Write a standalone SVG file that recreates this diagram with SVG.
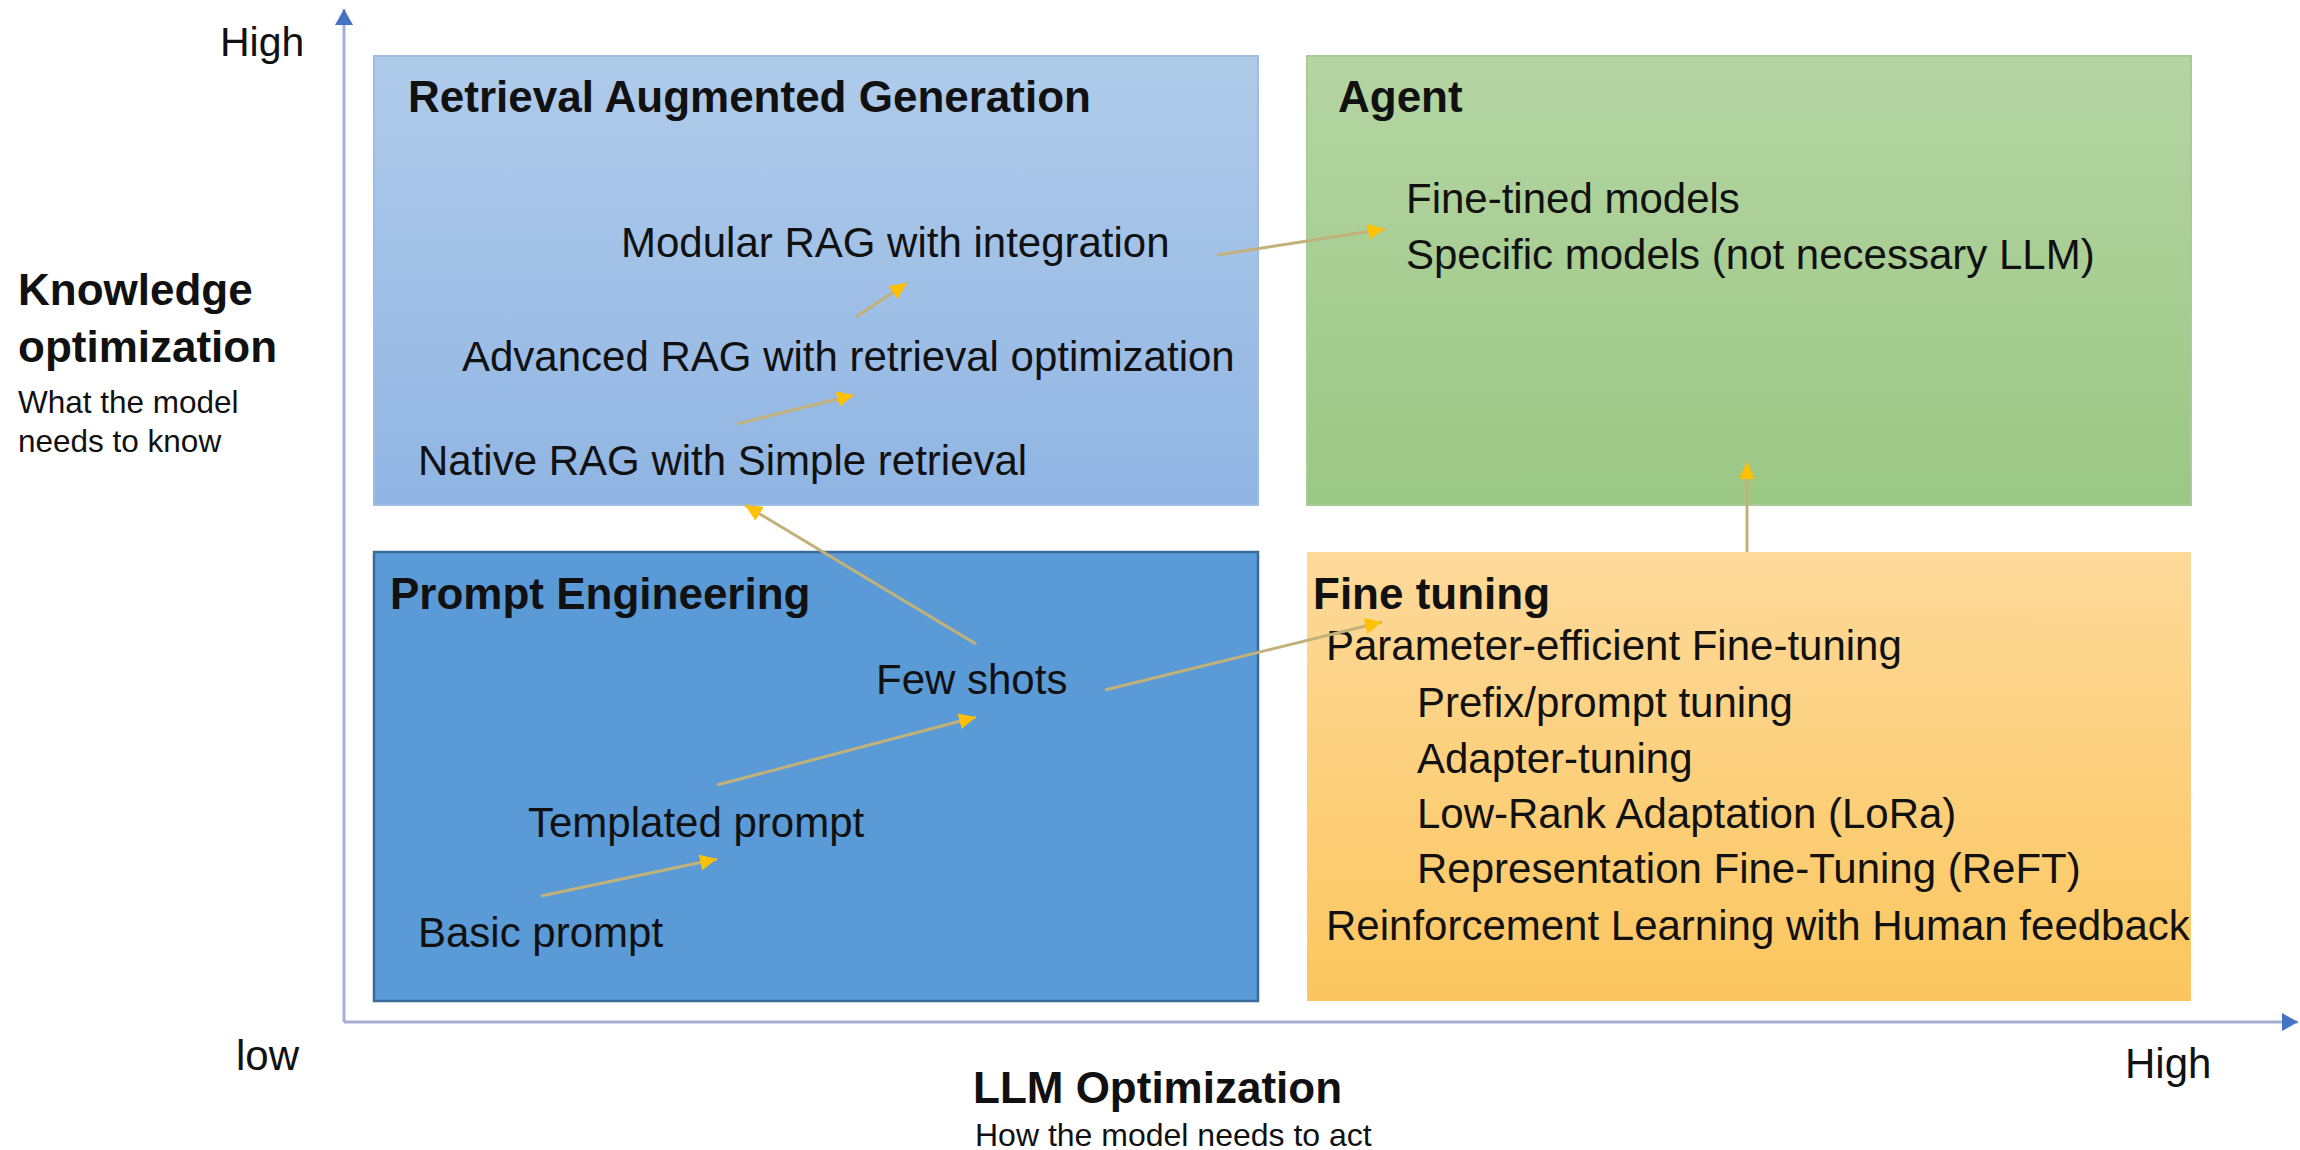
<svg xmlns="http://www.w3.org/2000/svg" width="2300" height="1150" viewBox="0 0 2300 1150">
<defs>
<linearGradient id="gRag" x1="0" y1="0" x2="0" y2="1"><stop offset="0" stop-color="#b0cbea"/><stop offset="1" stop-color="#90b5e3"/></linearGradient>
<linearGradient id="gAgent" x1="0" y1="0" x2="0" y2="1"><stop offset="0" stop-color="#b5d5a3"/><stop offset="1" stop-color="#9bc784"/></linearGradient>
<linearGradient id="gFt" x1="0" y1="0" x2="0" y2="1"><stop offset="0" stop-color="#fdd99a"/><stop offset="1" stop-color="#fbc65e"/></linearGradient>
<marker id="gold" markerUnits="userSpaceOnUse" markerWidth="18" markerHeight="16" refX="17" refY="8" orient="auto"><path d="M0,0 L17,8 L0,16 Z" fill="#ffc000"/></marker>
<marker id="blue" markerUnits="userSpaceOnUse" markerWidth="18" markerHeight="18" refX="16" refY="9" orient="auto"><path d="M0,0 L16,9 L0,18 Z" fill="#4472c4"/></marker>
</defs>
<style>
text{font-family:"Liberation Sans",Arial,sans-serif;fill:#111}
.b{font-weight:bold;font-size:44px}
.r{font-size:42px}
.s{font-size:31.5px}
.ax{stroke:#a6aed3;stroke-width:3;fill:none}
.c{stroke:#c2b27a;stroke-width:3;fill:none}
</style>
<rect width="2300" height="1150" fill="#ffffff"/>
<g id="axes">
<line class="ax" x1="344" y1="1022" x2="344" y2="9" marker-end="url(#blue)"/>
<line class="ax" x1="344" y1="1022" x2="2298" y2="1022" marker-end="url(#blue)"/>
<text class="r" x="220" y="56" style="font-size:41px">High</text>
<text class="r" x="236" y="1070">low</text>
<text class="r" x="2125" y="1078">High</text>
<text class="b" x="18" y="305">Knowledge</text>
<text class="b" x="18" y="362">optimization</text>
<text class="s" x="18" y="413">What the model</text>
<text class="s" x="18" y="452">needs to know</text>
<text class="b" x="973" y="1103">LLM Optimization</text>
<text class="s" x="975" y="1146" style="font-size:32px">How the model needs to act</text>
</g>
<g id="rag">
<rect x="374" y="56" width="884" height="449" fill="url(#gRag)" stroke="#9fbde2" stroke-width="2"/>
<text class="b" x="408" y="112">Retrieval Augmented Generation</text>
<text class="r" x="621" y="257">Modular RAG with integration</text>
<text class="r" x="462" y="371">Advanced RAG with retrieval optimization</text>
<text class="r" x="418" y="475">Native RAG with Simple retrieval</text>
</g>
<g id="agent">
<rect x="1307" y="56" width="884" height="449" fill="url(#gAgent)" stroke="#a9cc96" stroke-width="2"/>
<text class="b" x="1338" y="112">Agent</text>
<text class="r" x="1406" y="213">Fine-tined models</text>
<text class="r" x="1406" y="269">Specific models (not necessary LLM)</text>
</g>
<g id="prompt">
<rect x="374" y="552" width="884" height="449" fill="#5a9ad6" stroke="#3b6b9b" stroke-width="2.5"/>
<text class="b" x="390" y="609">Prompt Engineering</text>
<text class="r" x="876" y="694">Few shots</text>
<text class="r" x="528" y="837">Templated prompt</text>
<text class="r" x="418" y="947">Basic prompt</text>
</g>
<g id="finetuning">
<rect x="1307" y="552" width="884" height="449" fill="url(#gFt)"/>
<text class="b" x="1313" y="609">Fine tuning</text>
<text class="r" x="1326" y="660">Parameter-efficient Fine-tuning</text>
<text class="r" x="1417" y="717">Prefix/prompt tuning</text>
<text class="r" x="1417" y="773">Adapter-tuning</text>
<text class="r" x="1417" y="828">Low-Rank Adaptation (LoRa)</text>
<text class="r" x="1417" y="883">Representation Fine-Tuning (ReFT)</text>
<text class="r" x="1326" y="940">Reinforcement Learning with Human feedback</text>
</g>
<g id="connectors">
<line class="c" x1="541" y1="896" x2="717" y2="859" marker-end="url(#gold)"/>
<line class="c" x1="717" y1="785" x2="976" y2="717" marker-end="url(#gold)"/>
<line class="c" x1="976" y1="644" x2="745" y2="505" marker-end="url(#gold)"/>
<line class="c" x1="1105" y1="690" x2="1382" y2="622" marker-end="url(#gold)"/>
<line class="c" x1="737" y1="424" x2="854" y2="395" marker-end="url(#gold)"/>
<line class="c" x1="856" y1="317" x2="907" y2="283" marker-end="url(#gold)"/>
<line class="c" x1="1217" y1="255" x2="1385" y2="229" marker-end="url(#gold)"/>
<line class="c" x1="1747" y1="552" x2="1747" y2="462" marker-end="url(#gold)"/>
</g>
</svg>
